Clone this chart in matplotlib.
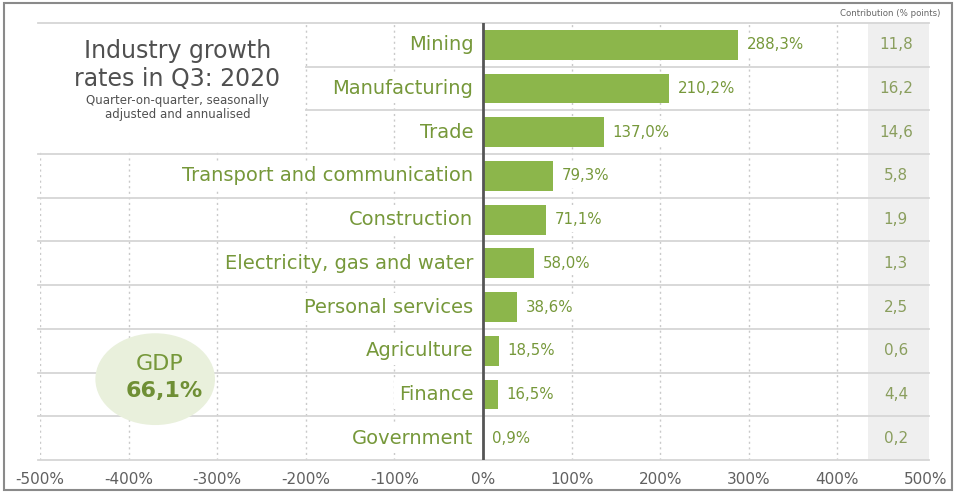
import matplotlib
matplotlib.use("Agg")
import matplotlib.pyplot as plt
from matplotlib.patches import Ellipse, Rectangle

categories = ["Mining", "Manufacturing", "Trade", "Transport and communication",
              "Construction", "Electricity, gas and water", "Personal services",
              "Agriculture", "Finance", "Government"]
growth = [288.3, 210.2, 137.0, 79.3, 71.1, 58.0, 38.6, 18.5, 16.5, 0.9]
contribution = ["11,8", "16,2", "14,6", "5,8", "1,9", "1,3", "2,5", "0,6", "4,4", "0,2"]
xticks = [-500, -400, -300, -200, -100, 0, 100, 200, 300, 400, 500]
gdp_label = "66,1%"

BAR = "#8cb64b"
GREEN_TXT = "#76983a"
GRAY_TXT = "#505050"

plt.rcParams['font.family'] = ['DejaVu Sans']

fig = plt.figure(figsize=(9.57, 4.93), dpi=100)
W, H = 957, 493
left, right, top, bottom = 40, 926, 23, 460
ax = fig.add_axes([left / W, 1 - bottom / H, (right - left) / W, (bottom - top) / H])
ax.set_xlim(-500, 500)
n = len(categories)
ax.set_ylim(n - 0.5, -0.5)
for s in ax.spines.values():
    s.set_visible(False)

# contribution column background
ax.add_patch(Rectangle((435, -0.5), 68, n, facecolor="#efefef", edgecolor="none",
                       zorder=0, clip_on=False))

# vertical dotted gridlines
for xv in xticks[:-1]:
    if xv == 0:
        continue
    ax.axvline(xv, color="#c9c9c9", lw=1.0, ls=(0, (1.5, 2.5)), zorder=1)

# horizontal row separators
for yv in [i - 0.5 for i in range(n + 1)]:
    ax.plot([-502, 503], [yv, yv], color="#d6d6d6", lw=1.3, zorder=1, clip_on=False)

# title white background
ax.add_patch(Rectangle((-505, -0.47), 304, 2.93, facecolor="white", edgecolor="none",
                       zorder=2, clip_on=False))

# bars
ys = list(range(n))
ax.barh(ys, growth, height=0.68, color=BAR, zorder=3)

# zero line
ax.axvline(0, color="#555555", lw=2.0, zorder=4)

# category labels
for y, c in zip(ys, categories):
    ax.annotate(c, (0, y), xytext=(-7, 0), textcoords="offset points",
                ha="right", va="center", fontsize=14, color=GREEN_TXT, zorder=5,
                bbox=dict(boxstyle="square,pad=0.25", fc="white", ec="none"))

# value labels
for y, v in zip(ys, growth):
    ax.annotate(f"{v:.1f}%".replace(".", ","), (v, y), xytext=(6, 0),
                textcoords="offset points", ha="left", va="center",
                fontsize=10.8, color=GREEN_TXT, zorder=5,
                bbox=dict(boxstyle="square,pad=0.3", fc="white", ec="none"))

# contribution values
for y, c in zip(ys, contribution):
    ax.text(466, y, c, ha="center", va="center", fontsize=11, color="#8a9e5e", zorder=5)
fig.text(890 / W, 1 - 13 / H, "Contribution (% points)", ha="center", va="center",
         fontsize=6.2, color="#666666")

# title
ax.text(-345, 0.15, "Industry growth", ha="center", va="center", fontsize=17,
        color=GRAY_TXT, zorder=6)
ax.text(-345, 0.78, "rates in Q3: 2020", ha="center", va="center", fontsize=17,
        color=GRAY_TXT, zorder=6)
ax.text(-345, 1.27, "Quarter-on-quarter, seasonally", ha="center", va="center",
        fontsize=8.5, color=GRAY_TXT, zorder=6)
ax.text(-345, 1.6, "adjusted and annualised", ha="center", va="center",
        fontsize=8.5, color=GRAY_TXT, zorder=6)

# GDP bubble
ax.add_patch(Ellipse((-370, 7.65), 135, 2.1, facecolor="#e9f0dc", edgecolor="none",
                     zorder=2))
ax.text(-365, 7.3, "GDP", ha="center", va="center", fontsize=16, color=GREEN_TXT, zorder=6)
ax.text(-360, 7.93, gdp_label, ha="center", va="center", fontsize=16,
        fontweight="bold", color="#6f8f35", zorder=6)

# x ticks
ax.set_xticks(xticks)
ax.set_xticklabels([f"{t}%" for t in xticks], fontsize=11, color="#606060")
ax.tick_params(axis="x", length=0, pad=9)
ax.set_yticks([])

# outer border
fig.add_artist(Rectangle((4 / W, 3 / H), 948 / W, 487 / H, transform=fig.transFigure,
                         fill=False, edgecolor="#8a8a8a", lw=1.5))

fig.savefig("out.png", dpi=100)
